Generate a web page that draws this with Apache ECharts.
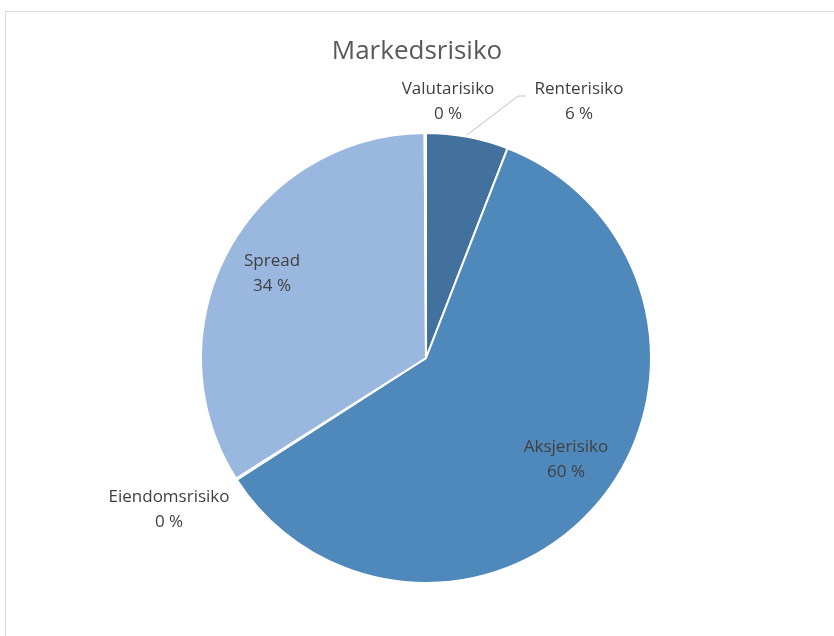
<!DOCTYPE html>
<html>
<head>
<meta charset="utf-8">
<script src="https://cdn.jsdelivr.net/npm/echarts@6/dist/echarts.min.js"></script>
<style>
html,body{margin:0;padding:0;background:#fff;}
#c{width:834px;height:636px;}
</style>
</head>
<body>
<div id="c"></div>
<script>
const categories = ['Renterisiko', 'Aksjerisiko', 'Eiendomsrisiko', 'Spread', 'Valutarisiko'];
const values = [5.9, 60.0, 0.1, 33.9, 0.1];
const colors = ['#41719C', '#4F88BB', '#7FA6D4', '#9AB8DF', '#A5C0E2'];
const insideLabels = ['Aksjerisiko', 'Spread'];

const labelPos = {
  'Renterisiko': {x: 579, y: 102, line: [[467, 135], [518, 96], [526, 96]]},
  'Aksjerisiko': {x: 566, y: 460},
  'Eiendomsrisiko': {x: 169, y: 510},
  'Spread': {x: 272, y: 274},
  'Valutarisiko': {x: 448, y: 102}
};

const chart = echarts.init(document.getElementById('c'));
const fontFam = '"Open Sans", "Noto Sans", sans-serif';

chart.setOption({
  backgroundColor: '#ffffff',
  animation: false,
  title: {
    text: 'Markedsrisiko',
    left: 'center',
    top: 34,
    textStyle: {fontFamily: fontFam, fontSize: 26, fontWeight: 'normal', color: '#595959'}
  },
  graphic: [{
    type: 'rect',
    shape: {x: 5.5, y: 11.5, width: 900, height: 700},
    style: {fill: 'none', stroke: '#d9d9d9', lineWidth: 1},
    silent: true
  }],
  series: [{
    type: 'pie',
    center: [426, 358],
    radius: [0, 225],
    startAngle: 90,
    clockwise: true,
    avoidLabelOverlap: false,
    percentPrecision: 0,
    itemStyle: {borderColor: '#ffffff', borderWidth: 2},
    label: {
      show: true,
      formatter: '{b}\n{d} %',
      fontFamily: fontFam,
      fontSize: 17,
      lineHeight: 25,
      color: '#404040',
      align: 'center'
    },
    labelLine: {show: false, lineStyle: {color: '#BFBFBF', width: 1}},
    labelLayout: function (p) {
      const name = categories[p.dataIndex];
      const lp = labelPos[name];
      const r = {x: lp.x, y: lp.y, align: 'center', verticalAlign: 'middle'};
      if (lp.line) r.labelLinePoints = lp.line;
      return r;
    },
    emphasis: {disabled: true},
    data: categories.map((c, i) => ({
      name: c,
      value: values[i],
      itemStyle: {color: colors[i]},
      label: insideLabels.includes(c) ? {position: 'inside'} : {position: 'outside'},
      labelLine: {show: c === 'Renterisiko'}
    }))
  }]
});
</script>
</body>
</html>
